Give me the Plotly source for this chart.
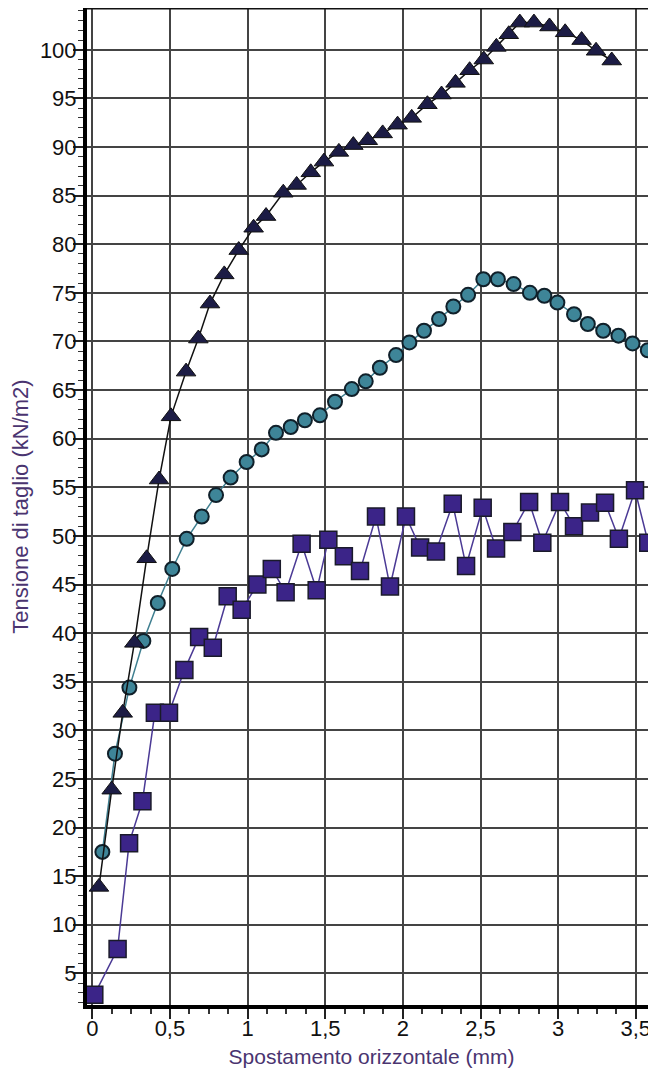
import plotly.graph_objects as go

# --- data ---
tri_x = [0.043, 0.125, 0.196, 0.271, 0.350, 0.430, 0.507, 0.604, 0.683, 0.758,
         0.850, 0.943, 1.039, 1.119, 1.230, 1.316, 1.407, 1.492, 1.588, 1.681,
         1.774, 1.870, 1.966, 2.057, 2.158, 2.249, 2.339, 2.430, 2.521, 2.602,
         2.682, 2.753, 2.844, 2.944, 3.045, 3.151, 3.244, 3.345]
tri_y = [13.9, 23.9, 31.8, 39.0, 47.7, 55.8, 62.3, 66.9, 70.3, 73.9,
         76.9, 79.4, 81.7, 82.9, 85.3, 86.1, 87.4, 88.5, 89.5, 90.2,
         90.7, 91.4, 92.3, 93.0, 94.4, 95.4, 96.6, 97.9, 99.0, 100.3,
         101.6, 102.8, 102.8, 102.4, 101.8, 101.0, 99.9, 98.9]

cir_x = [0.065, 0.146, 0.239, 0.329, 0.422, 0.515, 0.608, 0.705, 0.797, 0.891,
         0.994, 1.091, 1.183, 1.278, 1.369, 1.466, 1.563, 1.671, 1.761, 1.852,
         1.956, 2.042, 2.136, 2.233, 2.325, 2.420, 2.518, 2.612, 2.713, 2.818,
         2.911, 2.995, 3.102, 3.191, 3.290, 3.388, 3.479, 3.577]
cir_y = [17.5, 27.6, 34.4, 39.2, 43.1, 46.6, 49.7, 52.0, 54.2, 56.0,
         57.6, 58.9, 60.6, 61.2, 61.9, 62.4, 63.8, 65.1, 65.9, 67.3,
         68.6, 69.9, 71.1, 72.3, 73.6, 74.8, 76.4, 76.4, 75.9, 75.0,
         74.7, 74.0, 72.8, 71.8, 71.1, 70.6, 69.8, 69.1]

sq_x = [0.013, 0.163, 0.237, 0.323, 0.403, 0.494, 0.593, 0.688, 0.776, 0.872,
        0.962, 1.063, 1.156, 1.245, 1.348, 1.445, 1.520, 1.620, 1.724, 1.827,
        1.917, 2.020, 2.111, 2.213, 2.321, 2.407, 2.514, 2.600, 2.705, 2.813,
        2.898, 3.012, 3.102, 3.205, 3.302, 3.391, 3.495, 3.580]
sq_y = [2.8, 7.5, 18.4, 22.7, 31.8, 31.8, 36.2, 39.6, 38.5, 43.8,
        42.4, 45.0, 46.6, 44.2, 49.2, 44.4, 49.6, 47.9, 46.4, 52.0,
        44.8, 52.0, 48.8, 48.4, 53.3, 46.9, 52.9, 48.7, 50.4, 53.5,
        49.3, 53.5, 51.0, 52.4, 53.4, 49.7, 54.7, 49.3]

x_title = "Spostamento orizzontale (mm)"
y_title = "Tensione di taglio (kN/m2)"

FONT = "Liberation Sans, Arial, sans-serif"
TITLE_COLOR = "#4a3470"

fig = go.Figure()

fig.add_trace(go.Scatter(
    x=sq_x, y=sq_y, mode="lines+markers",
    line=dict(color="#4b3a95", width=1.5),
    marker=dict(symbol="square", size=17, color="#3b2488",
                line=dict(color="#1a1a2a", width=1.5)),
    showlegend=False))

fig.add_trace(go.Scatter(
    x=cir_x, y=cir_y, mode="lines+markers",
    line=dict(color="#3f7f90", width=1.5),
    marker=dict(symbol="circle", size=14, color="#3e8598",
                line=dict(color="#10202a", width=2)),
    showlegend=False))

fig.add_trace(go.Scatter(
    x=tri_x, y=tri_y, mode="lines+markers",
    line=dict(color="#111111", width=1.5),
    marker=dict(symbol="triangle-up", size=17, color="#1c1c45",
                line=dict(color="#111111", width=1)),
    showlegend=False))

# the page body adds an 8 px offset, so the figure is 8 px smaller on each side
fig.update_layout(
    width=648, height=1068,
    margin=dict(l=79, r=0, t=0, b=71),
    paper_bgcolor="white", plot_bgcolor="white",
    separators=",.",
    font=dict(family=FONT, size=22, color="#111111"),
    xaxis=dict(
        range=[-0.034, 3.63],
        tick0=0, dtick=0.5,
        automargin=False,
        showgrid=True, gridcolor="#444444", gridwidth=1.5,
        zeroline=False,
        showline=True, linecolor="#000000", linewidth=4,
        ticks="outside", ticklen=10, tickwidth=1.5, tickcolor="#222222",
        ticklabelstandoff=-9,
        minor=dict(dtick=0.125, ticks="outside", ticklen=5, tickwidth=1.5,
                   tickcolor="#333333", showgrid=False),
        tickfont=dict(family=FONT, size=22, color="#111111"),
        title=dict(text=x_title, font=dict(family=FONT, size=21, color=TITLE_COLOR),
                   standoff=10),
    ),
    yaxis=dict(
        range=[1.75, 104.3],
        tick0=0, dtick=5,
        automargin=False,
        showgrid=True, gridcolor="#444444", gridwidth=1.5,
        zeroline=False,
        showline=True, linecolor="#000000", linewidth=4,
        ticks="outside", ticklen=10, tickwidth=1.5, tickcolor="#222222",
        ticklabelstandoff=-8,
        minor=dict(dtick=1, ticks="outside", ticklen=5, tickwidth=1.2,
                   tickcolor="#333333", showgrid=False),
        tickfont=dict(family=FONT, size=22, color="#111111"),
        title=dict(text=y_title, font=dict(family=FONT, size=22, color=TITLE_COLOR),
                   standoff=12),
    ),
    shapes=[dict(type="line", xref="paper", yref="paper", x0=0, x1=1, y0=1, y1=1,
                 line=dict(color="#111111", width=3))],
)

fig.write_html("out.html")
